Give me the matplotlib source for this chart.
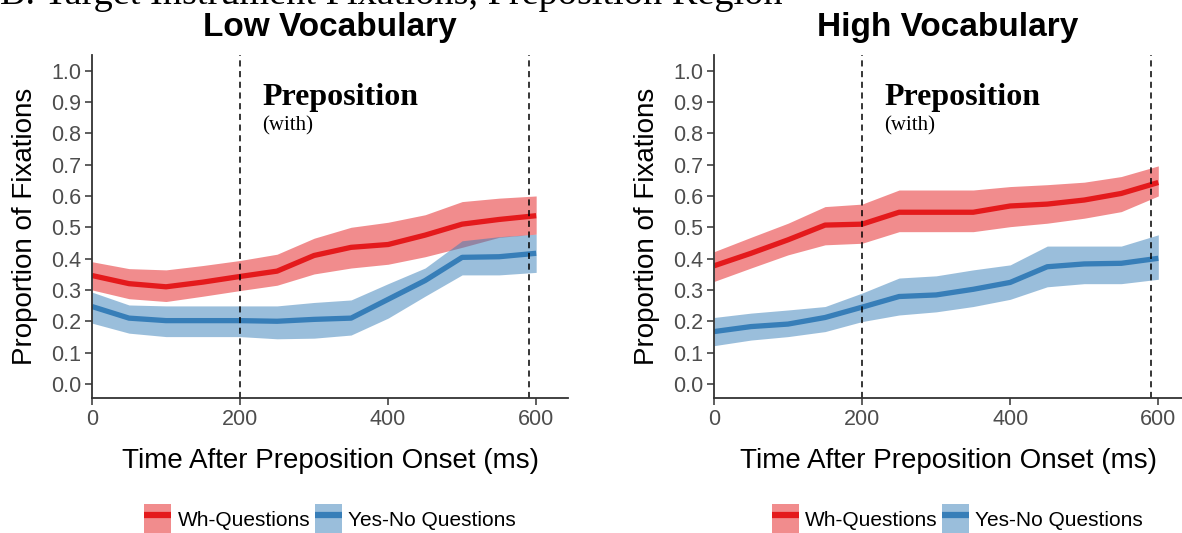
import matplotlib
matplotlib.use("Agg")
import matplotlib.pyplot as plt
from matplotlib.patches import Patch
from matplotlib.lines import Line2D
from matplotlib.legend_handler import HandlerTuple

# ---- data ----
time_ms = [0, 50, 100, 150, 200, 250, 300, 350, 400, 450, 500, 550, 600]

low_wh_mean = [0.346, 0.320, 0.310, 0.325, 0.343, 0.360, 0.410, 0.436, 0.445, 0.475, 0.510, 0.525, 0.537]
low_wh_upper = [0.390, 0.368, 0.364, 0.378, 0.394, 0.414, 0.465, 0.500, 0.516, 0.540, 0.582, 0.593, 0.600]
low_wh_lower = [0.300, 0.272, 0.263, 0.280, 0.298, 0.315, 0.351, 0.370, 0.382, 0.406, 0.436, 0.468, 0.478]

low_yn_mean = [0.247, 0.210, 0.202, 0.202, 0.202, 0.200, 0.206, 0.210, 0.270, 0.330, 0.404, 0.406, 0.417]
low_yn_upper = [0.293, 0.252, 0.249, 0.249, 0.249, 0.249, 0.260, 0.268, 0.320, 0.370, 0.457, 0.470, 0.478]
low_yn_lower = [0.194, 0.162, 0.151, 0.151, 0.151, 0.144, 0.146, 0.156, 0.210, 0.280, 0.348, 0.348, 0.356]

high_wh_mean = [0.377, 0.417, 0.460, 0.507, 0.510, 0.548, 0.548, 0.548, 0.568, 0.574, 0.587, 0.608, 0.643]
high_wh_upper = [0.422, 0.468, 0.513, 0.566, 0.574, 0.619, 0.619, 0.619, 0.630, 0.636, 0.644, 0.662, 0.696]
high_wh_lower = [0.327, 0.370, 0.412, 0.444, 0.449, 0.486, 0.486, 0.486, 0.502, 0.513, 0.529, 0.550, 0.600]

high_yn_mean = [0.167, 0.183, 0.191, 0.212, 0.245, 0.279, 0.284, 0.302, 0.324, 0.374, 0.383, 0.385, 0.401]
high_yn_upper = [0.212, 0.226, 0.236, 0.247, 0.290, 0.338, 0.345, 0.364, 0.380, 0.440, 0.440, 0.440, 0.476]
high_yn_lower = [0.122, 0.140, 0.151, 0.167, 0.199, 0.220, 0.230, 0.247, 0.270, 0.310, 0.320, 0.320, 0.334]

x_ticks = [0, 200, 400, 600]
y_ticks = [0.0, 0.1, 0.2, 0.3, 0.4, 0.5, 0.6, 0.7, 0.8, 0.9, 1.0]
region_lines = [200, 590]
series_labels = ["Wh-Questions", "Yes-No Questions"]
panel_titles = ["Low Vocabulary", "High Vocabulary"]

RED = "#E41A1C"
BLUE = "#377EB8"
SANS = "Liberation Sans"
SERIF = "Liberation Serif"
TICKC = "#4D4D4D"

W, H = 1182, 533
fig = plt.figure(figsize=(W / 100, H / 100), dpi=100)

def px_axes(left, right, top, bottom):
    return fig.add_axes([left / W, 1 - bottom / H, (right - left) / W, (bottom - top) / H])

panels = [
    dict(ax=px_axes(92, 568, 55, 398), xmax=643,
         data=[(low_wh_mean, low_wh_lower, low_wh_upper), (low_yn_mean, low_yn_lower, low_yn_upper)]),
    dict(ax=px_axes(714, 1182, 55, 398), xmax=632,
         data=[(high_wh_mean, high_wh_lower, high_wh_upper), (high_yn_mean, high_yn_lower, high_yn_upper)]),
]

for i, p in enumerate(panels):
    ax = p["ax"]
    for (mean, lo, hi), col in zip(p["data"], [RED, BLUE]):
        ax.fill_between(time_ms, lo, hi, color=col, alpha=0.5, linewidth=0)
        ax.plot(time_ms, mean, color=col, linewidth=3.8, solid_capstyle="butt")
    for xv in region_lines:
        ax.axvline(xv, color="black", linestyle=(0, (4, 3)), linewidth=1.1)
    ax.set_xlim(0, p["xmax"])
    ax.set_ylim(-0.045, 1.05)
    ax.set_xticks(x_ticks)
    ax.set_yticks(y_ticks)
    ax.set_xticklabels([str(t) for t in x_ticks], fontsize=15.5, color=TICKC, family=SANS)
    ax.set_yticklabels([f"{t:.1f}" for t in y_ticks], fontsize=15.5, color=TICKC, family=SANS)
    ax.tick_params(length=5, width=1.1, color="#333333", pad=3)
    for s in ["top", "right"]:
        ax.spines[s].set_visible(False)
    for s in ["left", "bottom"]:
        ax.spines[s].set_linewidth(1.3)
        ax.spines[s].set_color("#333333")
    ax.set_xlabel("Time After Preposition Onset (ms)", fontsize=20, family=SANS, labelpad=13)
    ax.set_ylabel("Proportion of Fixations", fontsize=20, family=SANS, labelpad=9)
    ax.set_title(panel_titles[i], fontsize=24, fontweight="bold", family=SANS, pad=14)
    ax.text(230, 0.89, "Preposition", fontsize=23, fontweight="bold", family=SERIF, va="baseline", ha="left")
    ax.text(230, 0.81, "(with)", fontsize=15, family=SERIF, va="baseline", ha="left")

    handles = [
        (Patch(facecolor=RED, alpha=0.5, edgecolor="none"),
         Line2D([], [], color=RED, linewidth=4.5, solid_capstyle="butt")),
        (Patch(facecolor=BLUE, alpha=0.5, edgecolor="none"),
         Line2D([], [], color=BLUE, linewidth=4.5, solid_capstyle="butt")),
    ]
    ax.legend(handles, series_labels, handler_map={tuple: HandlerTuple(ndivide=1, pad=0)},
              loc="upper center", bbox_to_anchor=(0.5 if i == 0 else 0.52, -0.285), ncol=2, frameon=False,
              prop={"family": SANS, "size": 15}, handlelength=1.3, handleheight=1.9,
              handletextpad=0.3, columnspacing=0.2, borderaxespad=0)

fig.text(0.0, 1 - 4 / H, "B. Target Instrument Fixations, Preposition Region", fontsize=27.5,
         family=SERIF, va="baseline", ha="left")

fig.savefig("out.png", dpi=100)
